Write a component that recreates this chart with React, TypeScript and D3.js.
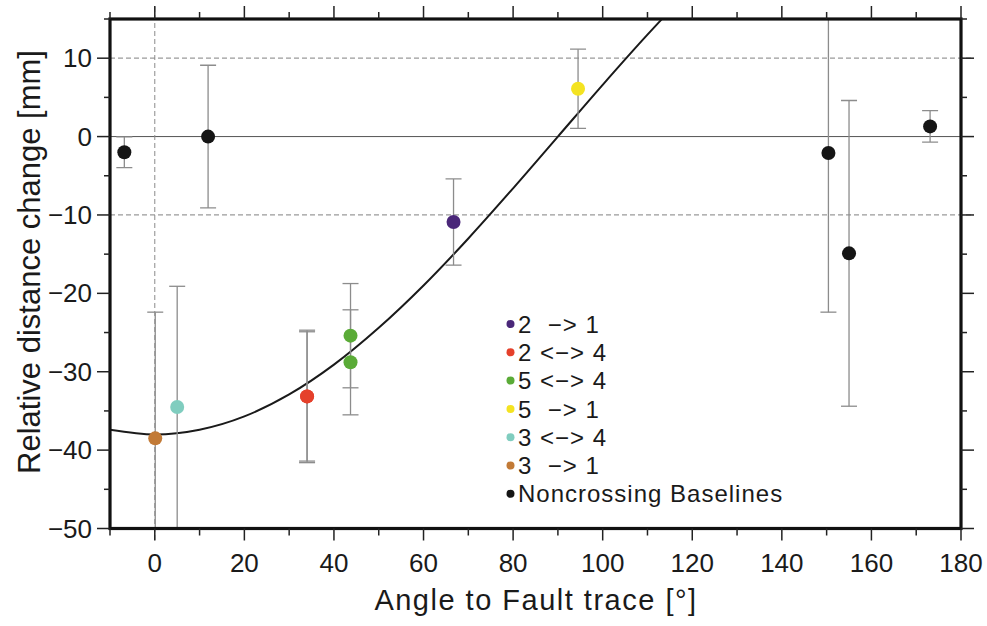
import React from "react";
import * as d3 from "d3";

// ---- data ----
const seriesNames = ["2  −> 1", "2 <−> 4", "5 <−> 4", "5  −> 1", "3 <−> 4", "3  −> 1", "Noncrossing Baselines"];
const seriesColors = ["#4a2779", "#e5402b", "#5aab37", "#f4e321", "#80cdbf", "#c27a36", "#151515"];

const pointSeries = [1, 1, 2, 2, 3, 4, 5, 6, 6, 6, 6, 6, 0];
const pointAngles = [34.0, 34.0, 43.7, 43.7, 94.5, 5.0, 0.1, -6.8, 11.9, 150.4, 155.0, 173.1, 66.7];
const pointValues = [-33.15, -33.15, -25.4, -28.8, 6.1, -34.5, -38.5, -2.0, 0.0, -2.1, -14.9, 1.3, -10.9];
const pointErrors = [8.45, 8.25, 6.65, 6.7, 5.05, 15.4, 16.1, 1.95, 9.1, 20.3, 19.5, 2.0, 5.5];

// model curve
const curveAngles = [-10, 0, 10, 20, 30, 40, 50, 60, 70, 80, 90, 100, 110, 113, 116];
const curveValues = [-37.4, -38.0, -37.4, -35.7, -32.9, -29.1, -24.4, -19.0, -13.0, -6.6, 0, 6.6, 13.0, 14.85, 16.7];

const xTicks = [0, 20, 40, 60, 80, 100, 120, 140, 160, 180];
const xMinorTicks = [-10, 10, 30, 50, 70, 90, 110, 130, 150, 170];
const yTicks = [-50, -40, -30, -20, -10, 0, 10];
const yMinorTicks = [-45, -35, -25, -15, -5, 5, 15];
const dashedY = [-10, 10];

const xLabel = "Angle to Fault trace [°]";
const yLabel = "Relative distance change [mm]";

const W = 987, H = 626;
const L = 110, R = 961, T = 19, B = 528.5;

export default function App() {
  const x = d3.scaleLinear().domain([-10, 180]).range([L, R]);
  const y = d3.scaleLinear().domain([-50, 15]).range([B, T]);
  const line = d3.line<number>()
    .x((_, i) => x(curveAngles[i]))
    .y((d) => y(d))
    .curve(d3.curveMonotoneX);
  const font = "'Liberation Sans', Arial, Helvetica, sans-serif";
  const fmt = (v: number) => (v < 0 ? "−" + Math.abs(v) : String(v));
  const errColor = "#8c8c8c";
  const capW = 8;

  return (
    <svg width={W} height={H} style={{ position: "absolute", left: 0, top: 0, background: "#fff" }} fontFamily={font}>
      <defs>
        <clipPath id="plot">
          <rect x={L} y={T} width={R - L} height={B - T} />
        </clipPath>
      </defs>
      <rect x={0} y={0} width={W} height={H} fill="#fff" />
      {/* grid */}
      {dashedY.map((v) => (
        <line key={"g" + v} x1={L} x2={R + 12} y1={y(v)} y2={y(v)} stroke="#9a9a9a" strokeWidth={1.2} strokeDasharray="5,3" />
      ))}
      <line x1={L} x2={R} y1={y(0)} y2={y(0)} stroke="#555" strokeWidth={1} />
      <line x1={x(0)} x2={x(0)} y1={T - 12} y2={B + 12} stroke="#8a8a8a" strokeWidth={1} strokeDasharray="5,3" />
      <g clipPath="url(#plot)">
        <path d={line(curveValues) || ""} fill="none" stroke="#1a1a1a" strokeWidth={2} />
        {pointAngles.map((a, i) => {
          const cx = x(a);
          const y1 = y(pointValues[i] + pointErrors[i]);
          const y2 = y(pointValues[i] - pointErrors[i]);
          return (
            <g key={"e" + i} stroke={errColor} strokeWidth={1.3}>
              <line x1={cx} x2={cx} y1={y1} y2={y2} />
              <line x1={cx - capW} x2={cx + capW} y1={y1} y2={y1} />
              <line x1={cx - capW} x2={cx + capW} y1={y2} y2={y2} />
            </g>
          );
        })}
        {pointAngles.map((a, i) => (
          <circle key={"p" + i} cx={x(a)} cy={y(pointValues[i])} r={7} fill={seriesColors[pointSeries[i]]} />
        ))}
      </g>
      {/* frame */}
      <rect x={L} y={T} width={R - L} height={B - T} fill="none" stroke="#111" strokeWidth={3.2} />
      {/* ticks */}
      <g stroke="#222" strokeWidth={1.5}>
        {xTicks.map((v) => (
          <g key={"xt" + v}>
            <line x1={x(v)} x2={x(v)} y1={B} y2={B + 12} />
            <line x1={x(v)} x2={x(v)} y1={T} y2={T - 13} />
          </g>
        ))}
        {xMinorTicks.map((v) => (
          <g key={"xm" + v}>
            <line x1={x(v)} x2={x(v)} y1={B} y2={B + 7} />
            <line x1={x(v)} x2={x(v)} y1={T} y2={T - 7} />
          </g>
        ))}
        {yTicks.map((v) => (
          <g key={"yt" + v}>
            <line x1={L} x2={L - 13} y1={y(v)} y2={y(v)} />
            <line x1={R} x2={R + 13} y1={y(v)} y2={y(v)} />
          </g>
        ))}
        {yMinorTicks.map((v) => (
          <g key={"ym" + v}>
            <line x1={L} x2={L - 6} y1={y(v)} y2={y(v)} />
            <line x1={R} x2={R + 6} y1={y(v)} y2={y(v)} />
          </g>
        ))}
      </g>
      {/* tick labels */}
      <g fontSize={26} fill="#1a1a1a">
        {xTicks.map((v) => (
          <text key={"xl" + v} x={x(v)} y={572} textAnchor="middle">{fmt(v)}</text>
        ))}
        {yTicks.map((v) => (
          <text key={"yl" + v} x={92} y={y(v)} dy="0.35em" textAnchor="end">{fmt(v)}</text>
        ))}
      </g>
      {/* axis titles */}
      <text x={536} y={610} textAnchor="middle" fontSize={29} letterSpacing={1.5} fill="#1a1a1a">{xLabel}</text>
      <text transform={`translate(40,262) rotate(-90)`} textAnchor="middle" fontSize={31} fill="#1a1a1a">{yLabel}</text>
      {/* legend */}
      <g>
        {seriesNames.map((n, i) => (
          <g key={"lg" + i} transform={`translate(510.5,${324 + i * 28.3})`}>
            <circle cx={0} cy={0} r={4} fill={seriesColors[i]} />
            <text x={7.5} y={0} dy="0.36em" fontSize={24} letterSpacing={1} fill="#1a1a1a" style={{ whiteSpace: "pre" }}>{n}</text>
          </g>
        ))}
      </g>
    </svg>
  );
}
